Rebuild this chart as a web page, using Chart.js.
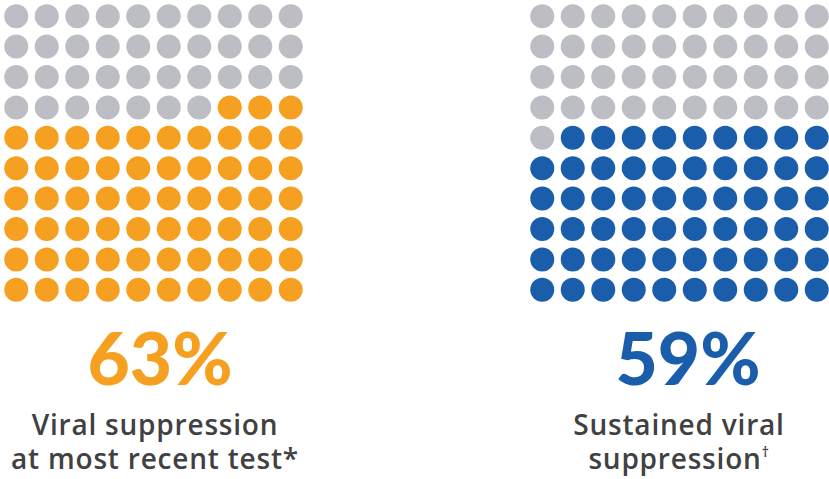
<!DOCTYPE html>
<html>
<head>
<meta charset="utf-8">
<script src="https://cdn.jsdelivr.net/npm/chart.js@4/dist/chart.umd.min.js"></script>
<style>
  html, body { margin: 0; padding: 0; background: #fff; }
  body { width: 829px; height: 479px; position: relative; overflow: hidden; }
  .box { position: absolute; top: 1px; width: 305px; height: 304px; }
  .pct { position: absolute; top: 317px; width: 320px; text-align: center; font-family: Lato, sans-serif; font-size: 73px; font-weight: 900; line-height: 80px; }
  .cap { position: absolute; top: 407px; width: 360px; text-align: center; font-family: "Open Sans", sans-serif; font-size: 28px; font-weight: 600; letter-spacing: 0.8px; line-height: 34px; color: #414042; }
  .cap sup { font-size: 14px; vertical-align: 12px; line-height: 0; }
</style>
</head>
<body>
<div class="box" style="left:1px"><canvas id="waffleLeft"></canvas></div>
<div class="box" style="left:527px"><canvas id="waffleRight"></canvas></div>

<div class="pct" id="pctLeft" style="left:0px"></div>
<div class="cap" style="left:-25px">Viral suppression<br>at most recent test*</div>

<div class="pct" id="pctRight" style="left:528px"></div>
<div class="cap" style="left:499px">Sustained viral<br>suppression<sup>†</sup></div>

<script>
// share of people (out of 100) for each waffle
const measures = ["Viral suppression at most recent test", "Sustained viral suppression"];
const percents = [63, 59];
const fillColors = ["#F5A021", "#1A5EAB"];
const emptyColor = "#BCBEC3";

const ROWS = 10;
const COLS = 10;

// one point per person, read left-to-right top-to-bottom; the last `value` are filled
function waffleConfig(value, color) {
  const points = [];
  const colors = [];
  for (let i = 0; i < ROWS * COLS; i++) {
    points.push({ x: i % COLS, y: Math.floor(i / COLS) });
    colors.push(i >= ROWS * COLS - value ? color : emptyColor);
  }
  return {
    type: "scatter",
    data: {
      datasets: [{
        data: points,
        pointBackgroundColor: colors,
        pointBorderWidth: 0,
        pointRadius: 12,
        pointHoverRadius: 12,
        clip: false,
      }],
    },
    options: {
      responsive: true,
      maintainAspectRatio: false,
      animation: false,
      events: [],
      layout: { padding: 0, autoPadding: false },
      plugins: { legend: { display: false }, tooltip: { enabled: false } },
      scales: {
        x: { display: false, min: -0.5, max: COLS - 0.5 },
        y: { display: false, min: -0.5, max: ROWS - 0.5, reverse: true },
      },
    },
  };
}

new Chart(document.getElementById("waffleLeft"), waffleConfig(percents[0], fillColors[0]));
new Chart(document.getElementById("waffleRight"), waffleConfig(percents[1], fillColors[1]));

const pctLeft = document.getElementById("pctLeft");
pctLeft.textContent = percents[0] + "%";
pctLeft.style.color = fillColors[0];
const pctRight = document.getElementById("pctRight");
pctRight.textContent = percents[1] + "%";
pctRight.style.color = fillColors[1];
</script>
</body>
</html>
